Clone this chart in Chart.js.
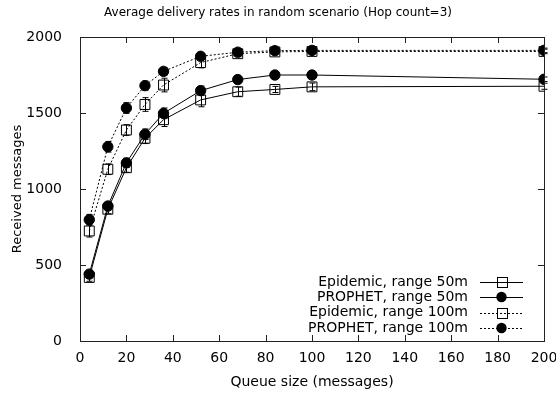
<!DOCTYPE html>
<html>
<head>
<meta charset="utf-8">
<script src="https://cdn.jsdelivr.net/npm/chart.js@4/dist/chart.umd.min.js"></script>
<style>
  html, body { margin: 0; padding: 0; background: #fff; }
  #wrap { width: 556px; height: 394px; }
</style>
</head>
<body>
<div id="wrap"><canvas id="chart" width="556" height="394"></canvas></div>
<script>
// Queue sizes (x) and received messages per series
const queueSizes = [4, 12, 20, 28, 36, 52, 68, 84, 100, 200];
const epidemic50 = [418, 867, 1140, 1334, 1456, 1586, 1640, 1655, 1672, 1676];
const prophet50 = [440, 888, 1172, 1360, 1498, 1647, 1720, 1750, 1750, 1722];
const epidemic100 = [724, 1130, 1388, 1556, 1684, 1832, 1890, 1902, 1905, 1905];
const prophet100 = [798, 1278, 1533, 1680, 1774, 1873, 1900, 1910, 1912, 1912];

// error bar half-widths
const epidemic50Err = [25, 30, 30, 35, 45, 45, 30, 20, 25, 20];
const prophet50Err = [25, 25, 30, 35, 35, 30, 20, 15, 15, 15];
const epidemic100Err = [40, 35, 35, 45, 45, 35, 20, 15, 15, 15];
const prophet100Err = [35, 35, 35, 30, 25, 20, 15, 15, 15, 15];

const seriesNames = ['Epidemic, range 50m', 'PROPHET, range 50m', 'Epidemic, range 100m', 'PROPHET, range 100m'];
const xTicks = [0, 20, 40, 60, 80, 100, 120, 140, 160, 180, 200];
const yTicks = [0, 500, 1000, 1500, 2000];

const FONT = '"DejaVu Sans", sans-serif';

function toPoints(values) {
    return queueSizes.map((x, i) => ({ x: x, y: values[i] }));
}

function makeSet(label, values, errs, square, dotted) {
    return {
        label: label,
        data: toPoints(values),
        errors: errs,
        borderColor: '#000',
        borderWidth: 1,
        borderDash: dotted ? [2, 2] : [],
        pointStyle: square ? 'rect' : 'circle',
        pointRadius: square ? 7 : 5.2,
        pointBorderWidth: 1,
        pointBorderColor: '#000',
        pointBackgroundColor: square ? 'rgba(0,0,0,0)' : '#000',
        fill: false,
        tension: 0
    };
}

// frame, inward ticks, error bars and the key box
const gnuplotLook = {
    id: 'gnuplotLook',
    afterDatasetsDraw(chart) {
        const ctx = chart.ctx;
        const a = chart.chartArea;
        const xs = chart.scales.x;
        const ys = chart.scales.y;
        ctx.save();
        ctx.strokeStyle = '#000';
        ctx.lineWidth = 1;
        ctx.setLineDash([]);

        // error bars
        chart.data.datasets.forEach(ds => {
            ds.data.forEach((p, i) => {
                const e = ds.errors[i];
                const px = Math.round(xs.getPixelForValue(p.x)) + 0.5;
                const top = ys.getPixelForValue(p.y + e);
                const bot = ys.getPixelForValue(p.y - e);
                ctx.beginPath();
                ctx.moveTo(px, top); ctx.lineTo(px, bot);
                ctx.moveTo(px - 3, top); ctx.lineTo(px + 3, top);
                ctx.moveTo(px - 3, bot); ctx.lineTo(px + 3, bot);
                ctx.stroke();
            });
        });

        // frame
        ctx.strokeStyle = '#222';
        ctx.strokeRect(Math.round(a.left) + 0.5, Math.round(a.top) + 0.5,
            Math.round(a.right - a.left), Math.round(a.bottom - a.top));

        // inward ticks
        const tl = 6;
        xTicks.forEach(v => {
            const px = Math.round(xs.getPixelForValue(v)) + 0.5;
            ctx.beginPath();
            ctx.moveTo(px, a.bottom); ctx.lineTo(px, a.bottom - tl);
            ctx.moveTo(px, a.top); ctx.lineTo(px, a.top + tl);
            ctx.stroke();
        });
        yTicks.forEach(v => {
            const py = Math.round(ys.getPixelForValue(v)) + 0.5;
            ctx.beginPath();
            ctx.moveTo(a.left, py); ctx.lineTo(a.left + tl, py);
            ctx.moveTo(a.right, py); ctx.lineTo(a.right - tl, py);
            ctx.stroke();
        });

        // key
        const textRight = 468;
        const sx0 = 480, sx1 = 523, mx = 501.5;
        const rowY = [282, 297, 312.5, 328];
        ctx.font = '14px ' + FONT;
        ctx.textAlign = 'right';
        ctx.textBaseline = 'middle';
        ctx.fillStyle = '#000';
        chart.data.datasets.forEach((ds, i) => {
            const y = rowY[i];
            ctx.fillText(ds.label, textRight, y);
            ctx.strokeStyle = '#000';
            ctx.setLineDash(ds.borderDash);
            ctx.beginPath();
            ctx.moveTo(sx0, Math.round(y) + 0.5); ctx.lineTo(sx1, Math.round(y) + 0.5);
            ctx.stroke();
            ctx.setLineDash([]);
            if (ds.pointStyle === 'rect') {
                ctx.strokeRect(Math.round(mx - 5) + 0.5, Math.round(y - 5) + 0.5, 10, 10);
            } else {
                ctx.beginPath();
                ctx.arc(mx, y, 5.2, 0, Math.PI * 2);
                ctx.fill();
            }
        });
        ctx.restore();
    }
};

const chart = new Chart(document.getElementById('chart'), {
    type: 'line',
    data: {
        datasets: [
            makeSet(seriesNames[0], epidemic50, epidemic50Err, true, false),
            makeSet(seriesNames[1], prophet50, prophet50Err, false, false),
            makeSet(seriesNames[2], epidemic100, epidemic100Err, true, true),
            makeSet(seriesNames[3], prophet100, prophet100Err, false, true)
        ]
    },
    options: {
        responsive: false,
        animation: false,
        layout: { padding: { top: 0, right: 0, left: 0, bottom: 0 } },
        plugins: {
            legend: { display: false },
            tooltip: { enabled: false },
            title: {
                display: true,
                text: 'Average delivery rates in random scenario (Hop count=3)',
                color: '#000',
                font: { family: FONT, size: 12, weight: 'normal' },
                padding: { top: 6, bottom: 16.6 }
            }
        },
        scales: {
            x: {
                type: 'linear',
                min: 0,
                max: 200,
                afterFit(s) { s.height = 53; s.paddingRight = 12; },
                afterBuildTicks(s) { s.ticks = xTicks.map(v => ({ value: v })); },
                grid: { display: false },
                border: { display: false },
                ticks: { color: '#000', padding: 1, maxRotation: 0, font: { family: FONT, size: 14 } },
                title: {
                    display: true,
                    text: 'Queue size (messages)',
                    color: '#000',
                    padding: { top: 0, bottom: 3 },
                    font: { family: FONT, size: 14 }
                }
            },
            y: {
                min: 0,
                max: 2000,
                afterFit(s) { s.width = 80; },
                afterBuildTicks(s) { s.ticks = yTicks.map(v => ({ value: v })); },
                grid: { display: false },
                border: { display: false },
                ticks: {
                    color: '#000',
                    padding: 10,
                    font: { family: FONT, size: 14 },
                    callback: v => String(v)
                },
                title: {
                    display: true,
                    text: 'Received messages',
                    color: '#000',
                    padding: { top: 10, bottom: 0 },
                    font: { family: FONT, size: 13 }
                }
            }
        }
    },
    plugins: [gnuplotLook]
});
</script>
</body>
</html>
